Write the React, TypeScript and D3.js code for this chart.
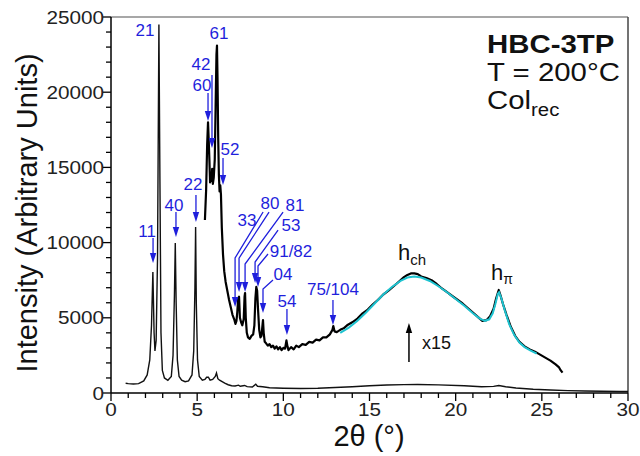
import React from 'react';
import * as d3 from 'd3';

const W = 640;
const H = 456;

// raw diffractogram (as measured)
const rawTheta = [0.85, 1.0, 1.3, 1.6, 1.9, 2.1, 2.25, 2.35, 2.43, 2.5, 2.55, 2.62, 2.7, 2.78, 2.84, 2.9, 2.98, 3.1, 3.3, 3.5, 3.6, 3.68, 3.73, 3.78, 3.85, 3.95, 4.1, 4.3, 4.5, 4.7, 4.8, 4.87, 4.91, 4.95, 5.02, 5.12, 5.3, 5.45, 5.55, 5.65, 5.75, 5.9, 6.05, 6.12, 6.2, 6.3, 6.45, 6.6, 6.8, 7.0, 7.2, 7.4, 7.5, 7.75, 7.9, 8.2, 8.4, 8.5, 8.8, 9.2, 10, 11, 12, 13, 14, 15, 16, 17, 17.8, 19, 20.5, 21.5, 22.2, 22.5, 22.9, 23.5, 24.5, 25.5, 26.5, 27.5, 28.5, 29.5, 30];
const rawInt = [650, 620, 600, 620, 800, 1200, 2200, 4500, 8050, 4000, 2800, 3500, 9000, 24500, 14000, 4000, 1500, 1000, 850, 1100, 2500, 6500, 9970, 6000, 2200, 1100, 850, 750, 800, 1200, 2800, 7000, 11040, 6000, 2200, 1100, 850, 900, 1050, 1050, 850, 900, 1100, 1330, 950, 850, 750, 650, 550, 480, 470, 520, 450, 500, 420, 400, 580, 450, 420, 350, 320, 300, 320, 370, 420, 480, 530, 560, 570, 540, 480, 420, 440, 500, 420, 330, 250, 200, 160, 130, 120, 100, 100];

// x15 magnified part
const magTheta = [5.45, 5.52, 5.58, 5.63, 5.67, 5.71, 5.75, 5.79, 5.83, 5.87, 5.91, 5.96, 6.02, 6.07, 6.12, 6.15, 6.18, 6.22, 6.26, 6.3, 6.34, 6.38, 6.43, 6.5, 6.57, 6.65, 6.75, 6.85, 6.95, 7.05, 7.15, 7.22, 7.28, 7.33, 7.38, 7.43, 7.48, 7.55, 7.62, 7.7, 7.75, 7.78, 7.82, 7.88, 7.95, 8.05, 8.15, 8.25, 8.32, 8.38, 8.43, 8.48, 8.53, 8.6, 8.67, 8.73, 8.79, 8.82, 8.86, 8.92, 9.0, 9.1, 9.2, 9.3, 9.4, 9.5, 9.6, 9.7, 9.8, 9.9, 10.0, 10.1, 10.18, 10.24, 10.3, 10.45, 10.6, 10.75, 10.9, 11.1, 11.3, 11.5, 11.7, 11.9, 12.1, 12.3, 12.5, 12.7, 12.85, 12.9, 12.97, 13.1, 13.3, 13.5, 13.7, 14.0, 14.3, 14.6, 14.9, 15.2, 15.5, 15.8, 16.1, 16.4, 16.7, 17.0, 17.2, 17.4, 17.6, 17.8, 18.0, 18.3, 18.6, 18.9, 19.2, 19.5, 19.8, 20.1, 20.4, 20.7, 21.0, 21.3, 21.55, 21.8, 22.0, 22.2, 22.35, 22.5, 22.6, 22.75, 22.95, 23.2, 23.45, 23.7, 24.0, 24.3, 24.6, 24.9, 25.2, 25.5, 25.8, 26.0, 26.1, 26.2];
const magInt = [11500, 13500, 16500, 18000, 16800, 15500, 14000, 14600, 14100, 14900, 13900, 14300, 15500, 19000, 22500, 23100, 21000, 17000, 14500, 13400, 13800, 13200, 11000, 9200, 8100, 7400, 6800, 6200, 5700, 5200, 4900, 4600, 4800, 5400, 6300, 6400, 5000, 4700, 4500, 4900, 6400, 6650, 5000, 4000, 3700, 3600, 3800, 3900, 4500, 6300, 7050, 6800, 5600, 4200, 3700, 3800, 4500, 4850, 4000, 3400, 3300, 3150, 3250, 3050, 3150, 2950, 3100, 2900, 3050, 2850, 3000, 2950, 3500, 3100, 2850, 3050, 2900, 3150, 3050, 3250, 3200, 3400, 3350, 3550, 3500, 3700, 3700, 3900, 4200, 4450, 4100, 4050, 4200, 4300, 4500, 4700, 4950, 5300, 5550, 5900, 6200, 6550, 6800, 7100, 7400, 7700, 7850, 7950, 7950, 7900, 7750, 7650, 7500, 7250, 6950, 6700, 6450, 6200, 5950, 5650, 5350, 5050, 4800, 4850, 5100, 5600, 6300, 6850, 6500, 5900, 5200, 4400, 3800, 3400, 3100, 2900, 2750, 2550, 2350, 2150, 1900, 1700, 1500, 1350];

// fit of the halo
const fitTheta = [13.3, 13.8, 14.3, 14.8, 15.3, 15.8, 16.3, 16.8, 17.2, 17.6, 18.0, 18.5, 19.0, 19.5, 20.0, 20.5, 21.0, 21.4, 21.7, 21.95, 22.15, 22.3, 22.45, 22.52, 22.65, 22.85, 23.1, 23.4, 23.7, 24.0, 24.3, 24.7];
const fitInt = [4000, 4350, 4800, 5350, 5950, 6550, 7050, 7450, 7680, 7750, 7680, 7450, 7100, 6700, 6250, 5800, 5300, 4950, 4800, 4900, 5300, 5900, 6600, 6700, 6300, 5500, 4600, 3850, 3350, 3050, 2850, 2620];

const xTicks = [0, 5, 10, 15, 20, 25, 30];
const yTicks = [0, 5000, 10000, 15000, 20000, 25000];

// peak indexing
const peakLabels = ['11', '21', '40', '22', '60', '42', '61', '52', '33', '80', '81', '53', '91/82', '04', '54', '75/104'];
const peakTheta = [2.44, 2.78, 3.77, 4.93, 5.63, 5.86, 6.15, 6.5, 7.2, 7.43, 7.78, 8.36, 8.53, 8.82, 10.21, 12.88];
const peakInt = [8640, 24500, 10370, 11370, 18080, 16290, 23100, 13830, 5720, 6710, 6710, 7310, 7050, 5320, 3860, 4520];

// label placement relative to the arrow tip, px: [textDx, textDy, startDx, startDy, bendDy] (null = no arrow)
const layout: (number[] | null)[] = [
  [-6, -32, 0, -25, 0], null, [-2, -32, 0, -25, 0], [-3, -37, 0, -27, 0],
  [-6, -36, 0, -28, 0], [-11, -83, 0, -73, 0], null, [7, -35, 0, -27, 0],
  [12, -86, 28, -95, -49], [31, -89, 30, -80, -34], [50, -87, 38, -80, -28], [36, -58, 23, -53, -21],
  [33, -35, 10, -33, -21], [20, -38, 10, -33, -24], [0, -33, 0, -26, 0], [0, -36, 0, -25, 0]
];
const labelOnly = [null, [-14, 6], null, null, null, null, [2, -12]];

const BLUE = '#1f1fdc';
const CYAN = '#1ec3d0';
const FONT = '"Liberation Sans", Arial, Helvetica, sans-serif';

export default function App() {
  const x = d3.scaleLinear().domain([0, 30]).range([111, 628]);
  const y = d3.scaleLinear().domain([0, 25000]).range([393, 17]);

  const line = d3.line<[number, number]>().x(d => x(d[0])).y(d => y(d[1]));
  const rawPath = line(rawTheta.map((t, i) => [t, rawInt[i]] as [number, number]))!;
  const magPath = line(magTheta.map((t, i) => [t, magInt[i]] as [number, number]))!;
  const fitPath = line(fitTheta.map((t, i) => [t, fitInt[i]] as [number, number]))!;

  const xMinor = d3.range(0, 31, 1);
  const yMinor = d3.range(0, 25001, 1000);

  const head = (tx: number, ty: number, c: string, dir = 1) => (
    <polygon points={`${tx},${ty} ${tx - 3.2},${ty - 10 * dir} ${tx + 3.2},${ty - 10 * dir}`} fill={c} />
  );

  return (
    <div style={{ position: 'absolute', left: 0, top: 0 }}>
      <svg width={W} height={H} style={{ display: 'block', background: '#fff' }} fontFamily={FONT}>
        {/* frame */}
        <line x1={111} x2={628} y1={17} y2={17} stroke="#8a8a8a" strokeWidth={1.5} />
        <line x1={628} x2={628} y1={17} y2={393} stroke="#444" strokeWidth={1.5} />

        {/* curves */}
        <path d={rawPath} fill="none" stroke="#111" strokeWidth={1.4} />
        <path d={magPath} fill="none" stroke="#000" strokeWidth={2.2} strokeLinejoin="round" />
        <path d={fitPath} fill="none" stroke={CYAN} strokeWidth={2} />

        {/* axes */}
        <line x1={111} x2={111} y1={17} y2={393} stroke="#000" strokeWidth={1.5} />
        <line x1={111} x2={628} y1={393} y2={393} stroke="#000" strokeWidth={1.5} />
        {yMinor.map(v => (
          <line key={'ym' + v} x1={111} x2={111 - (v % 5000 === 0 ? 8 : 5)} y1={y(v)} y2={y(v)} stroke="#000" strokeWidth={1.3} />
        ))}
        {xMinor.map(v => (
          <line key={'xm' + v} x1={x(v)} x2={x(v)} y1={393} y2={393 + (v % 5 === 0 ? 8 : 5)} stroke="#000" strokeWidth={1.3} />
        ))}
        {yTicks.map(v => (
          <text key={'yt' + v} transform={`translate(104,${y(v)}) scale(1.12,1)`} textAnchor="end" dominantBaseline="central" fontSize={18.5} fill="#222">{v}</text>
        ))}
        {xTicks.map(v => (
          <text key={'xt' + v} transform={`translate(${x(v)},409) scale(1.12,1)`} textAnchor="middle" dominantBaseline="central" fontSize={18.5} fill="#222">{v}</text>
        ))}
        <text x={369} y={436} textAnchor="middle" dominantBaseline="central" fontSize={29} fill="#111">2θ (°)</text>
        <text transform="translate(27,213) rotate(-90)" textAnchor="middle" dominantBaseline="central" fontSize={29} fill="#111">Intensity (Arbitrary Units)</text>

        {/* peak labels */}
        {peakLabels.map((lab, i) => {
          const tx = x(peakTheta[i]);
          const ty = y(peakInt[i]);
          const lay = layout[i];
          if (!lay) {
            const o = labelOnly[i]!;
            return (
              <text key={lab} x={tx + o[0]} y={ty + o[1]} textAnchor="middle" dominantBaseline="central" fontSize={17} fill={BLUE}>{lab}</text>
            );
          }
          const [dx, dy, sx, sy, by] = lay;
          const d = by === 0
            ? `M${tx},${ty + sy}L${tx},${ty - 8}`
            : `M${tx + sx},${ty + sy}L${tx},${ty + by}L${tx},${ty - 8}`;
          return (
            <g key={lab}>
              <path d={d} fill="none" stroke={BLUE} strokeWidth={1.3} />
              {head(tx, ty, BLUE)}
              <text x={tx + dx} y={ty + dy} textAnchor="middle" dominantBaseline="central" fontSize={17} fill={BLUE}>{lab}</text>
            </g>
          );
        })}

        {/* halo annotations */}
        <text x={x(17.47)} y={y(9375)} textAnchor="middle" dominantBaseline="central" fontSize={22} fill="#111">h<tspan fontSize={15} dy={7}>ch</tspan></text>
        <text x={x(22.69)} y={y(8045)} textAnchor="middle" dominantBaseline="central" fontSize={22} fill="#111">h<tspan fontSize={14} dy={7}>π</tspan></text>
        <line x1={x(17.29)} x2={x(17.29)} y1={y(2060)} y2={y(4650) + 8} stroke="#000" strokeWidth={1.5} />
        {head(x(17.29), y(4650), '#000', -1)}
        <text x={x(18.63)} y={y(3325)} textAnchor="start" dominantBaseline="central" fontSize={18} fill="#111" dx={-10}>x15</text>

        {/* sample info */}
        <text transform="translate(487,44) scale(1.13,1)" dominantBaseline="central" fontSize={26} fontWeight="bold" fill="#111">HBC-3TP</text>
        <text transform="translate(487,72) scale(1.13,1)" dominantBaseline="central" fontSize={26} fill="#111">T = 200°C</text>
        <text transform="translate(487,100) scale(1.13,1)" dominantBaseline="central" fontSize={26} fill="#111">Col<tspan fontSize={18} dy={9}>rec</tspan></text>
      </svg>
    </div>
  );
}
